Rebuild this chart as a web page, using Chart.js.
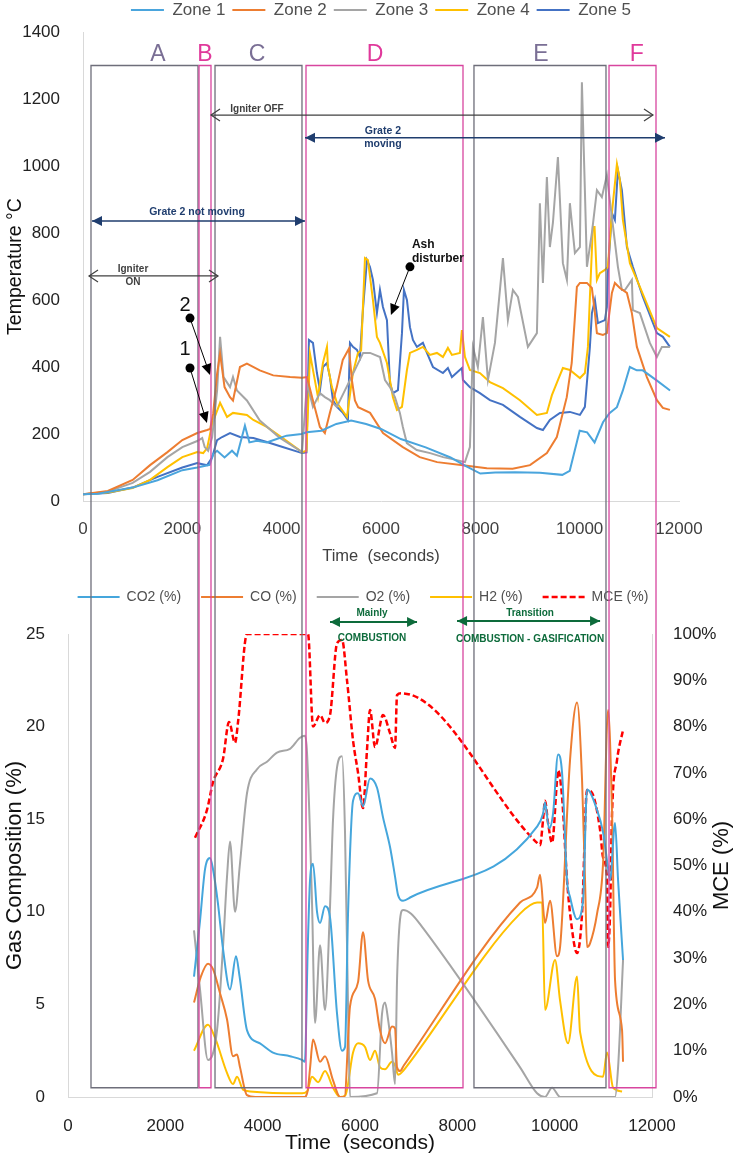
<!DOCTYPE html>
<html>
<head>
<meta charset="utf-8">
<script src="https://cdn.jsdelivr.net/npm/chart.js@4.4.1/dist/chart.umd.min.js"></script>
<style>
  html, body { margin: 0; padding: 0; background: #fff; }
  #wrap { position: relative; width: 738px; height: 1157px; overflow: hidden; }
  canvas { position: absolute; left: 0; }
  #tempChart { top: 0; }
  #gasChart { top: 580px; }
</style>
</head>
<body>
<div id="wrap">
  <canvas id="tempChart" width="738" height="580"></canvas>
  <canvas id="gasChart" width="738" height="577"></canvas>
</div>
<script>
// ---- data (time in seconds, value) ----
const timeTicks = [0, 2000, 4000, 6000, 8000, 10000, 12000];
const tempTicks = [0, 200, 400, 600, 800, 1000, 1200, 1400];
const gasTicks = [0, 5, 10, 15, 20, 25];
const mceTicks = [0, 10, 20, 30, 40, 50, 60, 70, 80, 90, 100];

const zoneLabels = ['Zone 1', 'Zone 2', 'Zone 3', 'Zone 4', 'Zone 5'];
const zoneColors = ['#4aa5dd', '#ed7d31', '#a5a5a5', '#ffc000', '#4472c4'];

const zone1 = [[0,20],[300,22],[1000,40],[1500,62],[2000,92],[2300,100],[2550,108],[2620,140],[2700,150],[2850,130],[3000,150],[3100,135],[3260,225],[3350,175],[3500,180],[3700,175],[3900,185],[4100,195],[4400,200],[4500,205],[4800,210],[5100,230],[5400,240],[5700,230],[6000,215],[6400,185],[6900,160],[7400,130],[7700,105],[8000,82],[8300,85],[8700,86],[9200,84],[9650,78],[9800,90],[10000,210],[10150,205],[10300,175],[10470,235],[10600,262],[10750,280],[10870,330],[11010,400],[11150,390],[11270,390],[11550,360],[11820,330]];
const zone2 = [[0,20],[500,30],[1000,63],[1350,107],[1700,146],[2000,182],[2300,203],[2500,212],[2560,215],[2620,260],[2700,380],[2760,440],[2850,340],[2960,310],[3020,300],[3160,400],[3300,410],[3560,390],[3830,375],[4170,370],[4410,368],[4510,370],[4630,300],[4770,221],[4870,203],[4970,263],[5110,340],[5230,421],[5355,455],[5415,360],[5475,300],[5540,280],[5780,263],[6040,203],[6440,161],[6780,131],[7130,116],[7650,107],[8130,98],[8650,96],[9000,107],[9340,143],[9540,191],[9740,310],[9840,412],[9900,540],[9944,639],[10005,651],[10146,651],[10246,636],[10307,561],[10347,501],[10468,496],[10548,501],[10649,621],[10709,651],[10810,636],[10951,621],[11051,561],[11152,460],[11353,370],[11555,301],[11675,278],[11817,272]];
const zone3 = [[0,20],[500,28],[1000,54],[1350,87],[1700,131],[2000,161],[2300,179],[2400,188],[2450,161],[2520,150],[2600,190],[2700,330],[2760,490],[2830,370],[2960,340],[3020,370],[3100,330],[3300,300],[3560,240],[3950,190],[4410,146],[4510,352],[4630,281],[4770,322],[4870,310],[4970,301],[5110,281],[5375,361],[5640,442],[5780,442],[5980,430],[6080,361],[6180,340],[6280,310],[6380,263],[6440,221],[6520,173],[6720,152],[6990,143],[7250,131],[7530,122],[7690,116],[7790,161],[7851,460],[7950,400],[8052,549],[8153,361],[8294,472],[8455,725],[8555,540],[8656,630],[8757,609],[8958,460],[9139,501],[9199,889],[9260,651],[9340,967],[9400,758],[9461,830],[9562,1027],[9662,710],[9743,660],[9803,889],[9904,740],[10005,758],[10045,1250],[10105,928],[10146,699],[10246,800],[10347,928],[10447,907],[10548,973],[10600,907],[10770,699],[10850,630],[10911,630],[11051,660],[11071,570],[11212,561],[11413,472],[11555,430],[11656,460],[11817,460]];
const zone4 = [[0,20],[500,25],[1000,39],[1350,63],[1700,101],[2000,131],[2300,146],[2420,143],[2500,158],[2600,230],[2760,293],[2900,251],[3020,263],[3300,257],[3430,242],[3700,221],[4020,188],[4410,146],[4500,150],[4570,440],[4731,310],[4831,412],[4912,460],[4932,400],[5012,340],[5113,293],[5314,251],[5435,382],[5536,442],[5600,450],[5677,725],[5737,719],[5838,600],[5918,490],[5979,472],[6120,412],[6240,310],[6321,272],[6422,281],[6522,391],[6583,442],[6723,451],[6844,460],[6985,436],[7126,442],[7247,430],[7347,457],[7428,436],[7589,442],[7629,510],[7690,430],[7790,391],[7992,382],[8193,355],[8455,337],[8797,301],[9139,257],[9340,263],[9441,316],[9562,361],[9662,397],[9803,391],[10005,367],[10105,382],[10166,460],[10206,609],[10266,818],[10300,818],[10347,660],[10407,680],[10508,690],[10568,699],[10649,860],[10750,1006],[10810,958],[10870,839],[11011,710],[11212,639],[11555,516],[11817,490]];
const zone5 = [[0,20],[500,24],[1000,40],[1500,72],[2000,100],[2300,113],[2500,107],[2600,130],[2700,182],[2800,191],[2960,203],[3160,191],[3430,188],[3700,176],[4020,161],[4410,143],[4500,145],[4549,481],[4630,472],[4710,382],[4771,331],[4831,400],[4912,412],[4972,370],[5032,301],[5113,281],[5234,263],[5334,242],[5375,472],[5435,460],[5516,451],[5576,430],[5636,570],[5717,719],[5777,699],[5838,660],[5918,561],[5979,630],[6039,579],[6120,540],[6180,352],[6240,322],[6341,331],[6422,501],[6462,630],[6522,600],[6583,519],[6643,481],[6723,460],[6844,472],[6925,442],[7046,400],[7247,382],[7347,397],[7428,370],[7629,397],[7650,361],[7790,340],[7992,322],[8193,301],[8455,287],[8797,251],[9139,218],[9260,212],[9400,242],[9602,263],[9803,266],[10005,257],[10105,281],[10206,460],[10246,561],[10307,600],[10367,531],[10508,540],[10548,579],[10568,680],[10649,860],[10709,839],[10770,988],[10850,928],[10951,758],[11071,699],[11273,609],[11555,501],[11675,490],[11817,460]];
const zoneSeries = [zone1, zone2, zone3, zone4, zone5];

const gasLabels = ['CO2 (%)', 'CO (%)', 'O2 (%)', 'H2 (%)', 'MCE (%)'];
const gasColors = ['#45a6dc', '#ed7d31', '#a5a5a5', '#ffc000', '#ff0000'];

const co2 = [[2589,6.5],[2712,9.5],[2816,12.3],[2918,12.9],[2980,12.3],[3079,10.5],[3185,8.0],[3329,5.8],[3452,7.6],[3526,6.5],[3679,3.6],[3945,2.9],[4212,2.4],[4562,2.2],[4808,2.0],[4867,1.9],[4926,8.0],[4973,11.7],[5035,12.6],[5117,10.0],[5179,9.4],[5281,10.3],[5384,9.7],[5528,4.5],[5630,2.5],[5692,2.7],[5754,9.9],[5857,16.0],[5959,16.4],[6063,15.7],[6206,17.2],[6350,16.7],[6473,15.1],[6617,13.5],[6720,11.9],[6782,10.9],[6884,10.6],[7050,10.8],[9638,14.6],[9761,15.3],[9802,15.9],[9885,14.5],[9967,15.3],[10070,18.5],[10152,17.5],[10254,11.7],[10316,10.8],[10460,9.6],[10583,10.6],[10665,16.6],[10871,15.5],[10994,14.3],[11090,12.5],[11138,11.7],[11241,14.8],[11303,11.7],[11405,7.4]];
const co = [[2589,5.1],[2730,6.5],[2877,7.2],[2980,6.9],[3124,5.6],[3267,4.2],[3391,2.2],[3473,2.3],[3535,1.6],[3678,0.1],[3850,0],[4850,0],[4930,0.4],[4975,1.6],[5035,3.1],[5179,1.9],[5281,2.2],[5446,0.9],[5590,0],[5680,0],[5795,4.9],[5960,6.2],[6062,8.9],[6165,6.3],[6309,5.3],[6412,3.6],[6514,2.9],[6658,3.8],[6720,3.7],[6761,1.6],[6823,1.4],[6900,1.7],[9289,10.5],[9638,11.3],[9700,12.0],[9802,9.4],[9905,10.6],[10049,7.6],[10111,8.1],[10316,18.2],[10460,21.3],[10563,17.1],[10624,11.7],[10665,8.1],[10727,8.3],[10871,9.9],[10994,12.6],[11097,20.9],[11179,15.3],[11241,6.3],[11385,3.6],[11405,1.9]];
const o2 = [[2589,9.0],[2713,5.8],[2877,2.0],[3062,3.6],[3185,8.1],[3270,12.0],[3329,13.8],[3432,10.0],[3530,12.5],[3678,16.4],[3884,17.7],[4089,18.1],[4295,18.6],[4562,18.8],[4768,19.4],[4870,19.5],[4911,18.6],[5014,10.5],[5076,4.0],[5179,8.2],[5281,4.7],[5380,10.0],[5446,15.0],[5528,17.8],[5631,18.4],[5692,14.3],[5760,4.0],[5795,0],[6350,0.2],[6453,4.5],[6514,5.1],[6576,4.2],[6658,2.4],[6720,0.7],[6761,6.3],[6823,9.6],[6884,10.1],[7050,9.9],[7300,9.1],[9289,1.6],[9638,0.2],[9800,0],[9946,0.5],[10111,0],[11240,0],[11303,1.6],[11405,7.4]];
const h2 = [[2589,2.5],[2877,3.9],[3021,3.2],[3267,1.3],[3391,0.7],[3473,1.1],[3596,0.4],[3740,0.3],[4809,0.2],[4911,0.3],[5014,1.1],[5138,0.8],[5281,1.4],[5446,0.5],[5590,0],[5700,0.1],[5857,2.4],[5960,2.9],[6103,2.7],[6206,2.0],[6309,2.5],[6412,1.6],[6514,1.5],[6658,1.9],[6720,1.7],[6782,1.2],[6884,1.4],[6960,1.65],[9289,9.9],[9638,10.5],[9741,10.5],[9802,4.7],[10008,7.4],[10111,5.2],[10275,2.9],[10460,6.5],[10522,3.5],[10994,1.1],[11076,2.4],[11200,0.5],[11385,0.3]];
const mce = [[2610,56],[2856,62],[2980,68],[3185,73],[3309,81],[3432,76.5],[3494,81],[3678,100],[4932,100],[5035,80],[5179,82.5],[5281,80.8],[5384,82.5],[5528,98],[5631,98.7],[5733,90],[5857,77],[5960,70],[6062,62.4],[6144,75],[6206,83.6],[6309,75.6],[6473,82.5],[6617,78.6],[6720,75.4],[6761,86.8],[6850,87.2],[9638,54.9],[9700,54.4],[9761,59.8],[9802,64],[9864,59.2],[9946,54.9],[10049,68.5],[10070,70.6],[10152,64.8],[10254,46.9],[10316,39.7],[10460,31.1],[10563,39.7],[10665,66.3],[10768,65.7],[10933,57.7],[10994,51.8],[11076,46.9],[11097,32.4],[11138,39.7],[11179,61.3],[11282,72.8],[11405,79.3]];
const gasSeries = [co2, co, o2, h2, mce];

// process zones (seconds on the temperature time axis)
const zoneNames = ['A', 'B', 'C', 'D', 'E', 'F'];
const zoneStart = [161, 2336, 2658, 4490, 7872, 10591];
const zoneEnd = [2315, 2577, 4409, 7651, 10530, 11537];
const zoneLabelAt = [1510, 2456, 3503, 5879, 9220, 11152];

const FONT = 'Arial, "Liberation Sans", sans-serif';
Chart.defaults.font.family = FONT;

const toXY = arr => arr.map(p => ({x: p[0], y: p[1]}));
const useTicks = list => scale => { scale.ticks = list.map(v => ({value: v})); };
const GRAY = '#7a6f95', PINK = '#e0399b';
const zoneEdge = i => (i % 2 ? '#d8459f' : '#6e6e7a');
const zoneInk = i => (i % 2 ? PINK : GRAY);

function head(ctx, tx, ty, ang, len, half, filled) {
  const bx = tx - len * Math.cos(ang), by = ty - len * Math.sin(ang);
  const nx = -Math.sin(ang) * half, ny = Math.cos(ang) * half;
  ctx.beginPath();
  ctx.moveTo(bx + nx, by + ny);
  ctx.lineTo(tx, ty);
  ctx.lineTo(bx - nx, by - ny);
  if (filled) { ctx.closePath(); ctx.fill(); } else { ctx.stroke(); }
}

function span(ctx, x0, x1, y, color, filled, lw) {
  ctx.strokeStyle = color; ctx.fillStyle = color; ctx.lineWidth = lw;
  ctx.beginPath(); ctx.moveTo(x0, y); ctx.lineTo(x1, y); ctx.stroke();
  head(ctx, x0, y, Math.PI, filled ? 10 : 9, filled ? 5 : 6, filled);
  head(ctx, x1, y, 0, filled ? 10 : 9, filled ? 5 : 6, filled);
}

function pointer(ctx, x0, y0, x1, y1) {
  const ang = Math.atan2(y1 - y0, x1 - x0);
  ctx.fillStyle = '#000'; ctx.strokeStyle = '#000'; ctx.lineWidth = 1;
  ctx.beginPath(); ctx.arc(x0, y0, 4.5, 0, Math.PI * 2); ctx.fill();
  ctx.beginPath(); ctx.moveTo(x0, y0); ctx.lineTo(x1 - 8 * Math.cos(ang), y1 - 8 * Math.sin(ang)); ctx.stroke();
  head(ctx, x1, y1, ang, 11, 5, true);
}

function text(ctx, str, x, y, font, color, align) {
  ctx.font = font; ctx.fillStyle = color;
  ctx.textAlign = align || 'center'; ctx.textBaseline = 'middle';
  ctx.fillText(str, x, y);
}

const tempDecor = {
  id: 'tempDecor',
  afterDraw(chart) {
    const {ctx, scales: {x, y}} = chart;
    const px = v => x.getPixelForValue(v), py = v => y.getPixelForValue(v);
    ctx.save();
    const boxTop = py(1300);
    zoneNames.forEach((n, i) => {
      const x0 = px(zoneStart[i]), x1 = px(zoneEnd[i]);
      ctx.strokeStyle = zoneEdge(i); ctx.lineWidth = 1.3;
      ctx.beginPath();
      ctx.moveTo(x0, chart.height); ctx.lineTo(x0, boxTop); ctx.lineTo(x1, boxTop); ctx.lineTo(x1, chart.height);
      ctx.stroke();
      text(ctx, n, px(zoneLabelAt[i]), py(1331), '23px ' + FONT, zoneInk(i));
    });

    const navy = '#1f3d6e', dark = '#404040';
    span(ctx, px(2577), px(11476), py(1152), dark, false, 1.2);
    text(ctx, 'Igniter OFF', px(3503), py(1170), 'bold 10px ' + FONT, dark);
    span(ctx, px(4470), px(11718), py(1084), navy, true, 1.5);
    text(ctx, 'Grate 2', px(6039), py(1104), 'bold 10.5px ' + FONT, navy);
    text(ctx, 'moving', px(6039), py(1066), 'bold 10.5px ' + FONT, navy);
    span(ctx, px(181), px(4470), py(836), navy, true, 1.5);
    text(ctx, 'Grate 2 not moving', px(2295), py(863), 'bold 10.5px ' + FONT, navy);
    span(ctx, px(121), px(2718), py(672), dark, false, 1.2);
    text(ctx, 'Igniter', px(1007), py(693), 'bold 10px ' + FONT, dark);
    text(ctx, 'ON', px(1007), py(654), 'bold 10px ' + FONT, dark);

    text(ctx, '2', px(2053), py(585), '20px ' + FONT, '#111');
    pointer(ctx, px(2154), py(546), px(2557), py(376));
    text(ctx, '1', px(2053), py(451), '20px ' + FONT, '#111');
    pointer(ctx, px(2154), py(397), px(2496), py(233));
    text(ctx, 'Ash', px(6623), py(764), 'bold 12px ' + FONT, '#111', 'left');
    text(ctx, 'disturber', px(6623), py(722), 'bold 12px ' + FONT, '#111', 'left');
    pointer(ctx, px(6583), py(699), px(6200), py(555));
    ctx.restore();
  }
};

const tempChart = new Chart(document.getElementById('tempChart'), {
  type: 'line',
  data: {
    datasets: zoneSeries.map((s, i) => ({
      label: zoneLabels[i],
      data: toXY(s),
      borderColor: zoneColors[i],
      backgroundColor: zoneColors[i],
      borderWidth: 2,
      pointRadius: 0,
      tension: 0,
      fill: false
    }))
  },
  options: {
    responsive: false,
    animation: false,
    events: [],
    layout: { padding: { top: -5.5, left: 0, right: 59, bottom: 10 } },
    plugins: {
      tooltip: { enabled: false },
      legend: {
        position: 'top',
        fullSize: false,
        labels: {
          usePointStyle: true,
          pointStyle: 'line',
          pointStyleWidth: 33,
          padding: 7,
          color: '#505050',
          font: { size: 17 }
        }
      },
      title: { display: true, text: ' ', weight: 0, padding: { top: 0, bottom: 0 }, font: { size: 3, lineHeight: 1.17 } }
    },
    scales: {
      x: {
        type: 'linear', min: 0, max: 12000,
        afterBuildTicks: useTicks(timeTicks),
        afterFit: s => { s.height = 69; },
        grid: { display: false },
        border: { color: '#d9d9d9' },
        ticks: { padding: 10, color: '#404040', font: { size: 17 }, callback: v => String(v) },
        title: { display: true, text: 'Time  (seconds)', color: '#404040', font: { size: 16.5 }, padding: { top: 4, bottom: 4 } }
      },
      y: {
        min: 0, max: 1400,
        afterBuildTicks: useTicks(tempTicks),
        afterFit: s => { s.width = 83; },
        grid: { display: false },
        border: { color: '#d9d9d9' },
        ticks: { padding: 15, color: '#222', font: { size: 17 }, callback: v => String(v) },
        title: { display: true, text: 'Temperature °C', color: '#111', font: { size: 19.5 }, padding: { top: 4, bottom: 4 } }
      }
    }
  },
  plugins: [tempDecor]
});

const gasDecor = {
  id: 'gasDecor',
  afterDraw(chart) {
    const {ctx, scales: {x, y}} = chart;
    const tx = tempChart.scales.x;
    const px = v => x.getPixelForValue(v), py = v => y.getPixelForValue(v);
    ctx.save();
    const boxBottom = py(0.5);
    zoneNames.forEach((n, i) => {
      const x0 = tx.getPixelForValue(zoneStart[i]), x1 = tx.getPixelForValue(zoneEnd[i]);
      ctx.strokeStyle = zoneEdge(i); ctx.lineWidth = 1.3;
      ctx.beginPath();
      ctx.moveTo(x0, 0); ctx.lineTo(x0, boxBottom); ctx.lineTo(x1, boxBottom); ctx.lineTo(x1, 0);
      ctx.stroke();
    });

    const green = '#0d6b3b';
    span(ctx, px(5384), px(7172), py(25.65), green, true, 2);
    text(ctx, 'Mainly', px(6247), py(26.1), 'bold 10px ' + FONT, green);
    text(ctx, 'COMBUSTION', px(6247), py(24.78), 'bold 10px ' + FONT, green);
    span(ctx, px(7994), px(10933), py(25.7), green, true, 2);
    text(ctx, 'Transition', px(9494), py(26.13), 'bold 10px ' + FONT, green);
    text(ctx, 'COMBUSTION - GASIFICATION', px(9494), py(24.73), 'bold 10px ' + FONT, green);

    // right axis title reads bottom-to-top
    ctx.translate(722, (chart.chartArea.top + chart.chartArea.bottom) / 2);
    ctx.rotate(-Math.PI / 2);
    text(ctx, 'MCE (%)', 0, 0, '22px ' + FONT, '#111');
    ctx.restore();
  }
};

const gasChart = new Chart(document.getElementById('gasChart'), {
  type: 'line',
  data: {
    datasets: gasSeries.map((s, i) => ({
      label: gasLabels[i],
      data: toXY(s),
      yAxisID: i === 4 ? 'y2' : 'y',
      borderColor: gasColors[i],
      backgroundColor: gasColors[i],
      borderWidth: i === 4 ? 2.5 : 2,
      borderDash: i === 4 ? [6, 3] : [],
      pointRadius: 0,
      cubicInterpolationMode: 'monotone',
      fill: false
    }))
  },
  options: {
    responsive: false,
    animation: false,
    events: [],
    layout: { padding: { top: -10, left: 0, right: 12, bottom: 0 } },
    plugins: {
      tooltip: { enabled: false },
      legend: {
        position: 'top',
        labels: {
          usePointStyle: true,
          pointStyleWidth: 42,
          padding: 20,
          color: '#505050',
          font: { size: 14 },
          generateLabels: chart => Chart.defaults.plugins.legend.labels.generateLabels(chart).map((item, i) => {
            const ds = chart.data.datasets[i];
            return Object.assign(item, {
              pointStyle: 'line',
              strokeStyle: ds.borderColor,
              fillStyle: ds.borderColor,
              lineWidth: ds.borderWidth,
              lineDash: ds.borderDash
            });
          })
        }
      },
      title: { display: true, text: ' ', weight: 0, padding: { top: 0, bottom: 8 }, font: { size: 10, lineHeight: 1.2 } }
    },
    scales: {
      x: {
        type: 'linear', min: 0, max: 12000,
        afterBuildTicks: useTicks(timeTicks),
        afterFit: s => { s.height = 60; },
        grid: { display: false },
        border: { color: '#d9d9d9' },
        ticks: { padding: 11, color: '#222', font: { size: 17 }, callback: v => String(v) },
        title: { display: true, text: 'Time  (seconds)', color: '#111', font: { size: 21 }, padding: { top: 0, bottom: 1 } }
      },
      y: {
        min: 0, max: 25,
        afterBuildTicks: useTicks(gasTicks),
        afterFit: s => { s.width = 68; },
        grid: { display: false },
        border: { color: '#d9d9d9' },
        ticks: { padding: 15, color: '#222', font: { size: 17 }, callback: v => String(v) },
        title: { display: true, text: 'Gas Composition (%)', color: '#111', font: { size: 22 }, padding: { top: 2, bottom: 2 } }
      },
      y2: {
        position: 'right',
        min: 0, max: 100,
        afterBuildTicks: useTicks(mceTicks),
        afterFit: s => { s.width = 74; },
        grid: { display: false },
        border: { color: '#d9d9d9' },
        ticks: { padding: 13, color: '#222', font: { size: 17 }, callback: v => v + '%' }
      }
    }
  },
  plugins: [gasDecor]
});
</script>
</body>
</html>
